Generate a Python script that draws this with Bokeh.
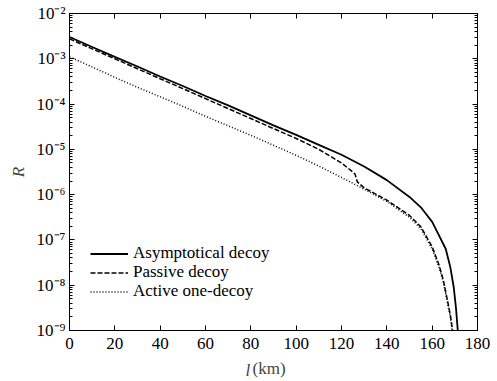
from bokeh.plotting import figure
from bokeh.models import (FixedTicker, LogAxis, LinearAxis, Legend, LegendItem,
                          Label, Range1d, CustomJSTickFormatter)
from bokeh.embed import file_html
from bokeh.resources import INLINE

FONT = "Liberation Serif"

# ---- data (l in km, R key rate) ----
asym_l = [0, 10, 20, 30, 40, 50, 60, 70, 80, 90, 100, 110, 120, 130, 140, 150,
          155, 160, 163, 166, 168, 169.5, 170.5, 171.3]
asym_R = [3.02e-3, 1.82e-3, 1.10e-3, 6.76e-4, 4.07e-4, 2.51e-4, 1.51e-4, 9.33e-5,
          5.62e-5, 3.39e-5, 2.09e-5, 1.26e-5, 7.59e-6, 4.17e-6, 2.09e-6, 8.91e-7,
          5.25e-7, 2.51e-7, 1.26e-7, 6.31e-8, 2.51e-8, 9.12e-9, 3.16e-9, 1.0e-9]

passive_l = [0, 10, 20, 30, 40, 50, 60, 70, 80, 90, 100, 110, 120, 125, 126, 127,
             130, 140, 150, 155, 160, 163, 165, 166.6, 168, 169]
passive_R = [2.75e-3, 1.66e-3, 1.0e-3, 6.03e-4, 3.63e-4, 2.19e-4, 1.32e-4, 7.94e-5,
             4.79e-5, 2.88e-5, 1.74e-5, 1.0e-5, 5.01e-6, 3.16e-6, 2.82e-6, 1.91e-6,
             1.41e-6, 7.59e-7, 3.47e-7, 1.95e-7, 7.08e-8, 2.82e-8, 1.26e-8, 5.01e-9,
             2.24e-9, 1.0e-9]

active_l = [0, 10, 20, 30, 40, 50, 60, 70, 80, 90, 100, 110, 120, 130, 140, 150,
            155, 160, 163, 165, 166.6, 168, 168.8]
active_R = [1.10e-3, 6.61e-4, 3.89e-4, 2.34e-4, 1.45e-4, 8.91e-5, 5.37e-5, 3.31e-5,
            2.04e-5, 1.23e-5, 7.41e-6, 4.27e-6, 2.40e-6, 1.32e-6, 7.08e-7, 3.16e-7,
            1.78e-7, 6.31e-8, 2.51e-8, 1.12e-8, 4.47e-9, 2.0e-9, 1.0e-9]

series_names = ["Asymptotical decoy", "Passive decoy", "Active one-decoy"]

x_ticks = [0, 20, 40, 60, 80, 100, 120, 140, 160, 180]
y_ticks = [1e-9, 1e-8, 1e-7, 1e-6, 1e-5, 1e-4, 1e-3, 1e-2]
y_tick_labels = ["10\u207b\u2079", "10\u207b\u2078", "10\u207b\u2077", "10\u207b\u2076",
                 "10\u207b\u2075", "10\u207b\u2074", "10\u207b\u00b3", "10\u207b\u00b2"]
y_minor = [m * d for d in y_ticks[:-1] for m in range(2, 10)]

p = figure(frame_width=408, frame_height=317, y_axis_type="log",
           x_range=Range1d(0, 180), y_range=Range1d(1e-9, 1e-2),
           output_backend="svg", toolbar_location=None,
           min_border_left=69, min_border_right=20, min_border_top=13,
           min_border_bottom=51)
p.background_fill_color = "white"
p.border_fill_color = "white"
p.grid.visible = False
p.outline_line_color = "black"
p.outline_line_width = 1

r1 = p.line(asym_l, asym_R, line_color="black", line_width=1.8)
r2 = p.line(passive_l, passive_R, line_color="black", line_width=1.5, line_dash="5 2")
r3 = p.line(active_l, active_R, line_color="black", line_width=1.5, line_dash="1 2")

yt = FixedTicker(ticks=y_ticks, minor_ticks=y_minor)
xt = FixedTicker(ticks=x_ticks)
blank = CustomJSTickFormatter(code="return ''")
ylab = CustomJSTickFormatter(args=dict(labels=y_tick_labels),
                             code="return labels[Math.round(Math.log10(tick)) + 9]")


def style_axis(ax, show_labels):
    ax.axis_line_color = "black"
    ax.axis_line_width = 1
    ax.major_tick_in = 5
    ax.major_tick_out = 0
    ax.minor_tick_in = 3
    ax.minor_tick_out = 0
    ax.major_tick_line_color = "black"
    ax.minor_tick_line_color = "black"
    ax.major_label_text_font = FONT
    ax.major_label_text_color = "black"
    ax.major_label_text_font_size = "17px"
    if not show_labels:
        ax.formatter = blank
        ax.major_label_standoff = 0


p.xaxis.ticker = xt
p.yaxis.ticker = yt
style_axis(p.xaxis[0], True)
p.xaxis.minor_tick_line_color = None
p.xaxis.major_label_standoff = 7
style_axis(p.yaxis[0], True)
p.yaxis.formatter = ylab
p.yaxis.major_label_standoff = 4
p.yaxis.axis_label = "R"
p.yaxis.axis_label_text_font = FONT
p.yaxis.axis_label_text_font_style = "italic"
p.yaxis.axis_label_text_font_size = "17px"
p.yaxis.axis_label_standoff = 6

top = LinearAxis(ticker=xt)
style_axis(top, False)
top.minor_tick_line_color = None
p.add_layout(top, "above")
right = LogAxis(ticker=yt)
style_axis(right, False)
p.add_layout(right, "right")

# x axis title: italic "l" followed by upright "(km)", in panels below the axis
# (each label gets its own stacked panel, hence the different y offsets)
p.add_layout(Label(x=176, y=10, x_units="screen", y_units="screen", text="l",
                   text_font=FONT, text_font_style="italic", text_font_size="17px",
                   text_align="left", text_baseline="top"), "below")
p.add_layout(Label(x=183, y=31, x_units="screen", y_units="screen", text="(km)",
                   text_font=FONT, text_font_size="17px",
                   text_align="left", text_baseline="top"), "below")

# one legend per row, to match the tight row pitch of the reference
legend_rows = [(series_names[0], r1, 67), (series_names[1], r2, 48),
               (series_names[2], r3, 29)]
for name, rend, ypos in legend_rows:
    lg = Legend(items=[LegendItem(label=name, renderers=[rend])],
                location=(21, ypos), orientation="vertical")
    lg.background_fill_alpha = 0
    lg.border_line_color = None
    lg.padding = 0
    lg.margin = 0
    lg.spacing = 0
    lg.glyph_width = 38
    lg.glyph_height = 17
    lg.label_height = 17
    lg.label_standoff = 5
    lg.label_text_font = FONT
    lg.label_text_font_size = "17px"
    lg.label_text_color = "black"
    p.add_layout(lg)

open("out.html", "w").write(file_html(p, INLINE))
